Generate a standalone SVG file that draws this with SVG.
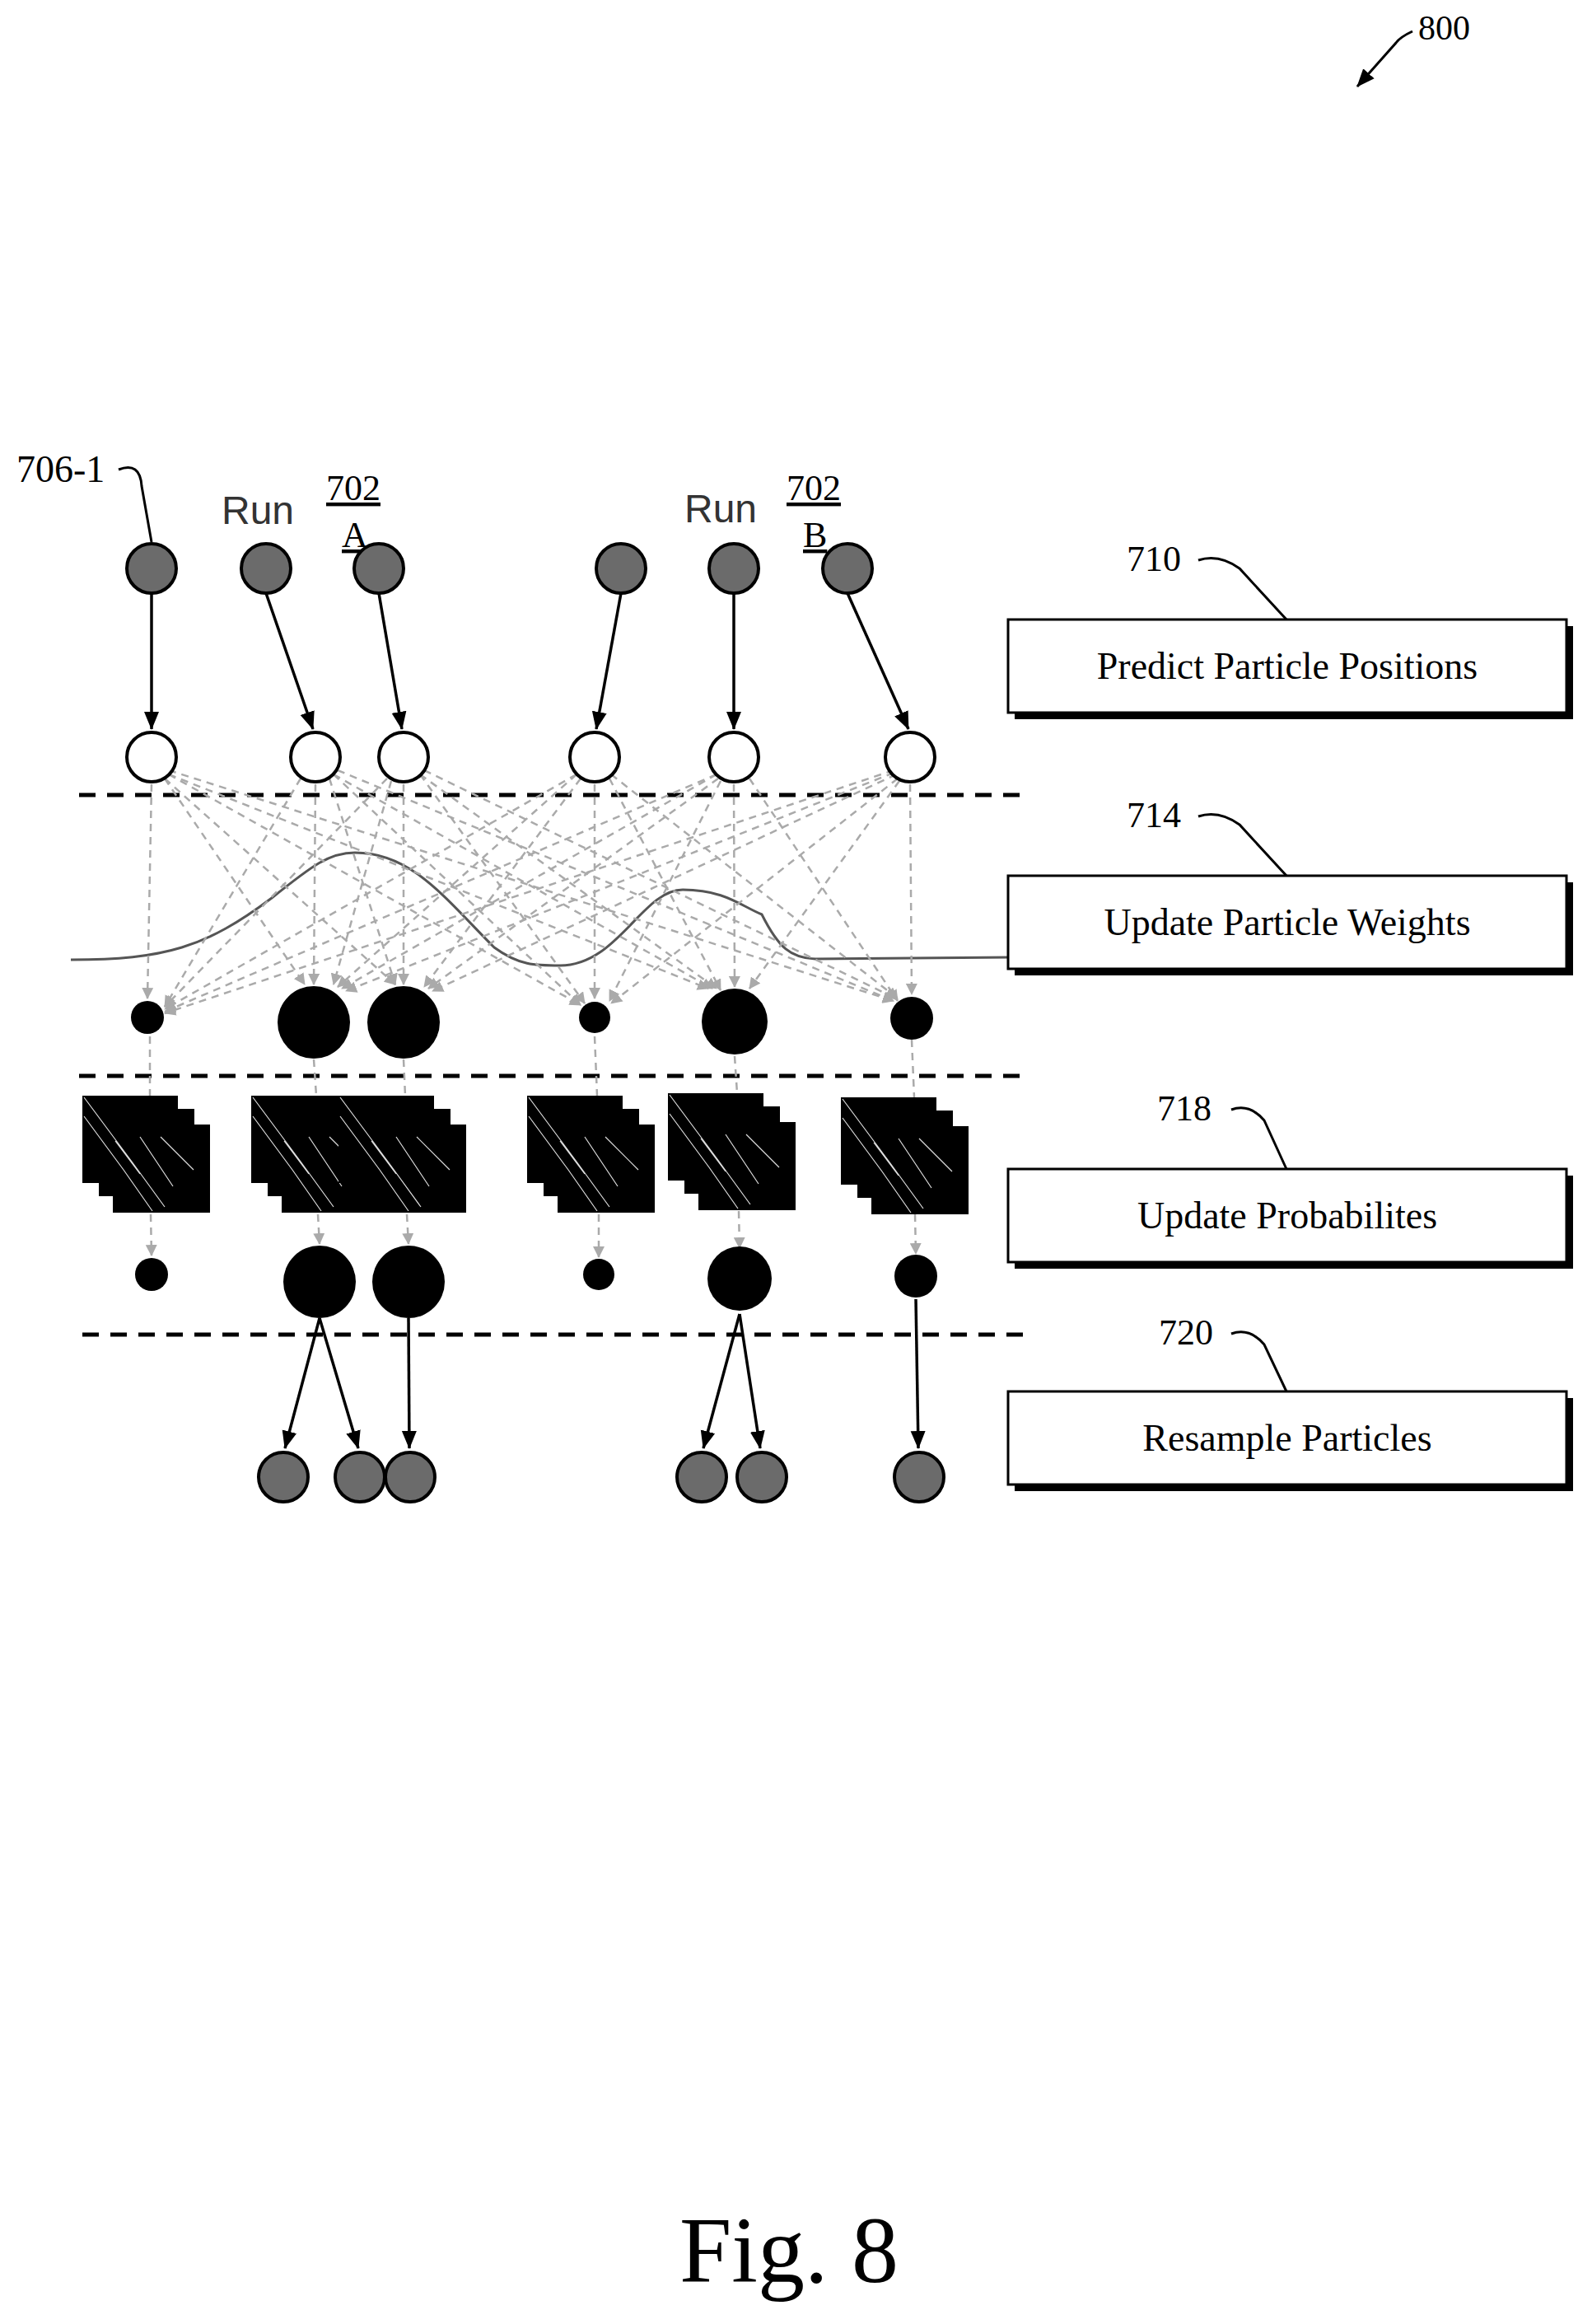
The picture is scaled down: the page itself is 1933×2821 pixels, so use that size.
<svg xmlns="http://www.w3.org/2000/svg" width="1933" height="2821" viewBox="0 0 1933 2821">
<style>
.t{font-family:"Liberation Serif",serif;fill:#000}
.run{font-family:"Liberation Sans",sans-serif;fill:#333;font-size:48px}
.gray{fill:#6b6b6b;stroke:#000;stroke-width:4}
.wht{fill:#fff;stroke:#000;stroke-width:4}
.blk{fill:#000}
.sol{stroke:#000;stroke-width:3.5;fill:none}
.gd{stroke:#aaa;stroke-width:2.5;stroke-dasharray:9 7;fill:none}
.dl{stroke:#000;stroke-width:5;stroke-dasharray:20 14}
.box{fill:#fff;stroke:#000;stroke-width:3}
.sh{fill:#000}
.lead{stroke:#000;stroke-width:3;fill:none}
.bt{font-size:46px}
</style>
<defs>
<marker id="ag" markerWidth="14" markerHeight="14" refX="13" refY="7" orient="auto" markerUnits="userSpaceOnUse" viewBox="0 0 14 14"><path d="M0,0 L14,7 L0,14 z" fill="#aaa"/></marker>
<marker id="abig" markerWidth="22" markerHeight="22" refX="21" refY="11" orient="auto" markerUnits="userSpaceOnUse" viewBox="0 0 22 22"><path d="M0,2 L22,11 L0,20 z" fill="#000"/></marker>
<g id="stack">
<rect x="0" y="0" width="116" height="106" fill="#000"/>
<rect x="20" y="16" width="116" height="106" fill="#000"/>
<rect x="37" y="35" width="118" height="107" fill="#000"/>
<path d="M2,2 L60,80 L100,135 M2,25 L50,90 L85,140 M40,55 L70,95 M95,50 L135,90 M70,50 L110,110" stroke="#ddd" stroke-width="1.2" fill="none"/>
</g>
</defs>

<g id="label-800">
<text class="t" x="1722" y="48" font-size="42">800</text>
<path class="lead" d="M1715,38 Q1700,45 1695,52 L1648,105" marker-end="url(#abig)"/>
</g>

<g id="label-706-1"><text class="t" x="20" y="585" font-size="46">706-1</text>
<path class="lead" d="M144,570 Q170,560 172,590 L184,658"/></g>
<g id="run-a"><text class="run" x="269" y="636">Run</text>
<text class="t" x="396" y="607" font-size="44" text-decoration="underline">702</text>
<text class="t" x="415" y="664" font-size="44" text-decoration="underline">A</text></g>
<g id="run-b"><text class="run" x="831" y="634">Run</text>
<text class="t" x="955" y="607" font-size="44" text-decoration="underline">702</text>
<text class="t" x="975" y="664" font-size="44" text-decoration="underline">B</text></g>

<g id="dividers">
<line class="dl" x1="96" y1="965" x2="1245" y2="965"/>
<line class="dl" x1="96" y1="1306" x2="1245" y2="1306"/>
<line class="dl" x1="100" y1="1620" x2="1245" y2="1620"/>
</g>

<g id="curve"><path d="M86,1165 C200,1165 250,1150 330,1090 C380,1050 400,1035 431,1035 C500,1035 540,1090 600,1150 C630,1172 650,1172 680,1172 C750,1172 780,1080 829,1080 C880,1080 900,1100 925,1110 C945,1150 960,1163 990,1164 L1228,1162" stroke="#555" stroke-width="3" fill="none"/></g>

<g id="connectors">
<line class="sol" x1="184" y1="720" x2="184" y2="885" marker-end="url(#abig)"/>
<line class="sol" x1="323" y1="720" x2="380" y2="885" marker-end="url(#abig)"/>
<line class="sol" x1="460" y1="720" x2="488" y2="885" marker-end="url(#abig)"/>
<line class="sol" x1="754" y1="720" x2="724" y2="885" marker-end="url(#abig)"/>
<line class="sol" x1="891" y1="720" x2="891" y2="885" marker-end="url(#abig)"/>
<line class="sol" x1="1029" y1="720" x2="1103" y2="885" marker-end="url(#abig)"/>
<g id="weights-lines">
<line class="gd" x1="184" y1="952" x2="179" y2="1212" marker-end="url(#ag)"/>
<line class="gd" x1="200" y1="945" x2="370" y2="1195" marker-end="url(#ag)"/>
<line class="gd" x1="200" y1="945" x2="480" y2="1195" marker-end="url(#ag)"/>
<line class="gd" x1="205" y1="940" x2="705" y2="1220" marker-end="url(#ag)"/>
<line class="gd" x1="205" y1="940" x2="860" y2="1200" marker-end="url(#ag)"/>
<line class="gd" x1="205" y1="935" x2="1085" y2="1215" marker-end="url(#ag)"/>
<line class="gd" x1="365" y1="945" x2="200" y2="1222" marker-end="url(#ag)"/>
<line class="gd" x1="383" y1="952" x2="381" y2="1195" marker-end="url(#ag)"/>
<line class="gd" x1="400" y1="945" x2="480" y2="1195" marker-end="url(#ag)"/>
<line class="gd" x1="405" y1="940" x2="705" y2="1220" marker-end="url(#ag)"/>
<line class="gd" x1="405" y1="940" x2="865" y2="1200" marker-end="url(#ag)"/>
<line class="gd" x1="410" y1="935" x2="1085" y2="1215" marker-end="url(#ag)"/>
<line class="gd" x1="470" y1="945" x2="200" y2="1222" marker-end="url(#ag)"/>
<line class="gd" x1="475" y1="948" x2="405" y2="1195" marker-end="url(#ag)"/>
<line class="gd" x1="490" y1="952" x2="490" y2="1195" marker-end="url(#ag)"/>
<line class="gd" x1="510" y1="940" x2="710" y2="1218" marker-end="url(#ag)"/>
<line class="gd" x1="510" y1="940" x2="870" y2="1200" marker-end="url(#ag)"/>
<line class="gd" x1="515" y1="935" x2="1088" y2="1212" marker-end="url(#ag)"/>
<line class="gd" x1="700" y1="940" x2="200" y2="1225" marker-end="url(#ag)"/>
<line class="gd" x1="700" y1="940" x2="410" y2="1198" marker-end="url(#ag)"/>
<line class="gd" x1="705" y1="945" x2="515" y2="1198" marker-end="url(#ag)"/>
<line class="gd" x1="722" y1="952" x2="722" y2="1212" marker-end="url(#ag)"/>
<line class="gd" x1="740" y1="945" x2="875" y2="1202" marker-end="url(#ag)"/>
<line class="gd" x1="742" y1="940" x2="1090" y2="1212" marker-end="url(#ag)"/>
<line class="gd" x1="870" y1="940" x2="200" y2="1228" marker-end="url(#ag)"/>
<line class="gd" x1="870" y1="940" x2="415" y2="1200" marker-end="url(#ag)"/>
<line class="gd" x1="872" y1="945" x2="520" y2="1200" marker-end="url(#ag)"/>
<line class="gd" x1="875" y1="948" x2="740" y2="1215" marker-end="url(#ag)"/>
<line class="gd" x1="891" y1="952" x2="892" y2="1198" marker-end="url(#ag)"/>
<line class="gd" x1="910" y1="945" x2="1090" y2="1215" marker-end="url(#ag)"/>
<line class="gd" x1="1085" y1="935" x2="200" y2="1230" marker-end="url(#ag)"/>
<line class="gd" x1="1085" y1="938" x2="420" y2="1203" marker-end="url(#ag)"/>
<line class="gd" x1="1088" y1="940" x2="525" y2="1203" marker-end="url(#ag)"/>
<line class="gd" x1="1090" y1="945" x2="742" y2="1218" marker-end="url(#ag)"/>
<line class="gd" x1="1092" y1="948" x2="910" y2="1200" marker-end="url(#ag)"/>
<line class="gd" x1="1105" y1="952" x2="1107" y2="1207" marker-end="url(#ag)"/>
</g>
<g id="prob-lines">
<line class="gd" x1="182" y1="1258" x2="182" y2="1330"/>
<line class="gd" x1="381" y1="1286" x2="384" y2="1330"/>
<line class="gd" x1="490" y1="1286" x2="492" y2="1330"/>
<line class="gd" x1="722" y1="1258" x2="725" y2="1330"/>
<line class="gd" x1="892" y1="1282" x2="895" y2="1327"/>
<line class="gd" x1="1107" y1="1262" x2="1110" y2="1332"/>
<line class="gd" x1="183" y1="1474" x2="184" y2="1524" marker-end="url(#ag)"/>
<line class="gd" x1="386" y1="1474" x2="388" y2="1510" marker-end="url(#ag)"/>
<line class="gd" x1="494" y1="1474" x2="496" y2="1510" marker-end="url(#ag)"/>
<line class="gd" x1="727" y1="1474" x2="727" y2="1526" marker-end="url(#ag)"/>
<line class="gd" x1="897" y1="1470" x2="898" y2="1515" marker-end="url(#ag)"/>
<line class="gd" x1="1111" y1="1474" x2="1112" y2="1522" marker-end="url(#ag)"/>
</g>
<line class="sol" x1="388" y1="1600" x2="346" y2="1758" marker-end="url(#abig)"/>
<line class="sol" x1="388" y1="1600" x2="435" y2="1758" marker-end="url(#abig)"/>
<line class="sol" x1="496" y1="1600" x2="497" y2="1758" marker-end="url(#abig)"/>
<line class="sol" x1="898" y1="1595" x2="854" y2="1758" marker-end="url(#abig)"/>
<line class="sol" x1="898" y1="1595" x2="923" y2="1758" marker-end="url(#abig)"/>
<line class="sol" x1="1112" y1="1577" x2="1115" y2="1758" marker-end="url(#abig)"/>
</g>

<g id="gray-top">
<circle class="gray" cx="184" cy="690" r="30"/><circle class="gray" cx="323" cy="690" r="30"/><circle class="gray" cx="460" cy="690" r="30"/>
<circle class="gray" cx="754" cy="690" r="30"/><circle class="gray" cx="891" cy="690" r="30"/><circle class="gray" cx="1029" cy="690" r="30"/>
</g>
<g id="white-predicted">
<circle class="wht" cx="184" cy="919" r="30"/><circle class="wht" cx="383" cy="919" r="30"/><circle class="wht" cx="490" cy="919" r="30"/>
<circle class="wht" cx="722" cy="919" r="30"/><circle class="wht" cx="891" cy="919" r="30"/><circle class="wht" cx="1105" cy="919" r="30"/>
</g>
<g id="weighted">
<circle class="blk" cx="179" cy="1235" r="20"/><circle class="blk" cx="381" cy="1241" r="44"/><circle class="blk" cx="490" cy="1241" r="44"/>
<circle class="blk" cx="722" cy="1235" r="19"/><circle class="blk" cx="892" cy="1240" r="40"/><circle class="blk" cx="1107" cy="1236" r="26"/>
</g>
<g id="images">
<use href="#stack" x="100" y="1330"/>
<use href="#stack" x="305" y="1330"/>
<use href="#stack" x="411" y="1330"/>
<use href="#stack" x="640" y="1330"/>
<use href="#stack" x="811" y="1327"/>
<use href="#stack" x="1021" y="1332"/>
</g>
<g id="probabilities">
<circle class="blk" cx="184" cy="1547" r="20"/><circle class="blk" cx="388" cy="1556" r="44"/><circle class="blk" cx="496" cy="1556" r="44"/>
<circle class="blk" cx="727" cy="1547" r="19"/><circle class="blk" cx="898" cy="1552" r="39"/><circle class="blk" cx="1112" cy="1549" r="26"/>
</g>
<g id="resampled">
<circle class="gray" cx="344" cy="1793" r="30"/><circle class="gray" cx="437" cy="1793" r="30"/><circle class="gray" cx="498" cy="1793" r="30"/>
<circle class="gray" cx="852" cy="1793" r="30"/><circle class="gray" cx="925" cy="1793" r="30"/><circle class="gray" cx="1116" cy="1793" r="30"/>
</g>

<g id="box-710">
<rect class="sh" x="1232" y="760" width="678" height="113"/>
<rect class="box" x="1224" y="752" width="678" height="113"/>
<text class="t bt" x="1563" y="824" text-anchor="middle">Predict Particle Positions</text>
<text class="t" x="1368" y="693" font-size="44">710</text>
<path class="lead" d="M1455,680 Q1480,672 1505,690 L1562,752"/>
</g>
<g id="box-714">
<rect class="sh" x="1232" y="1071" width="678" height="113"/>
<rect class="box" x="1224" y="1063" width="678" height="113"/>
<text class="t bt" x="1563" y="1135" text-anchor="middle">Update Particle Weights</text>
<text class="t" x="1368" y="1004" font-size="44">714</text>
<path class="lead" d="M1455,991 Q1480,983 1505,1001 L1562,1063"/>
</g>
<g id="box-718">
<rect class="sh" x="1232" y="1427" width="678" height="113"/>
<rect class="box" x="1224" y="1419" width="678" height="113"/>
<text class="t bt" x="1563" y="1491" text-anchor="middle">Update Probabilites</text>
<text class="t" x="1405" y="1360" font-size="44">718</text>
<path class="lead" d="M1495,1347 Q1517,1339 1535,1360 L1562,1419"/>
</g>
<g id="box-720">
<rect class="sh" x="1232" y="1697" width="678" height="113"/>
<rect class="box" x="1224" y="1689" width="678" height="113"/>
<text class="t bt" x="1563" y="1761" text-anchor="middle">Resample Particles</text>
<text class="t" x="1407" y="1632" font-size="44">720</text>
<path class="lead" d="M1495,1619 Q1517,1611 1535,1632 L1562,1689"/>
</g>

<text class="t" x="958" y="2770" font-size="114" text-anchor="middle">Fig. 8</text>
</svg>
